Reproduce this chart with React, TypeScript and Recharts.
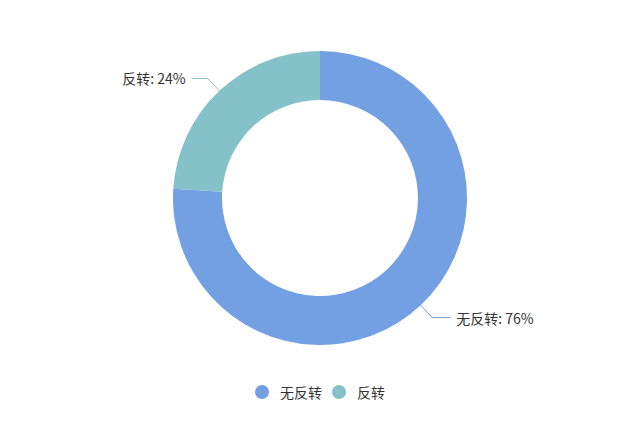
import React from 'react';
import { PieChart, Pie, Cell, Legend } from 'recharts';

const names = ['无反转', '反转'];
const values = [76, 24];
const colors = ['#739fe3', '#85c1c8'];

const data = names.map((name, i) => ({ name, value: values[i] }));

const RAD = Math.PI / 180;

const renderLabel = (props: any) => {
  const { cx, cy, midAngle, outerRadius, index, percent } = props;
  const cos = Math.cos(-midAngle * RAD);
  const sin = Math.sin(-midAngle * RAD);
  const x1 = cx + outerRadius * cos;
  const y1 = cy + outerRadius * sin;
  const x2 = cx + (outerRadius + 17) * cos;
  const y2 = cy + (outerRadius + 17) * sin;
  const right = cos >= 0;
  const x3 = x2 + (right ? 18 : -16);
  const tx = x3 + (right ? 6 : -6);
  return (
    <g>
      <path
        d={`M${x1},${y1}L${x2},${y2}L${x3},${y2}`}
        stroke={colors[index]}
        fill="none"
        strokeWidth={1}
      />
      <text
        x={tx}
        y={y2}
        textAnchor={right ? 'start' : 'end'}
        dominantBaseline="central"
        fill="#333"
        fontSize={14}
      >
        {`${names[index]}: ${Math.round(percent * 100)}%`}
      </text>
    </g>
  );
};

const renderLegend = () => (
  <div style={{ display: 'flex', justifyContent: 'center', alignItems: 'center', fontSize: 14, color: '#333' }}>
    {names.map((n, i) => (
      <div key={n} style={{ display: 'flex', alignItems: 'center', marginRight: i === 0 ? 10 : 0 }}>
        <span
          style={{
            width: 14,
            height: 14,
            borderRadius: 7,
            background: colors[i],
            display: 'inline-block',
            marginRight: 11,
          }}
        />
        <span>{n}</span>
      </div>
    ))}
  </div>
);

export default function App() {
  return (
    <div style={{ position: 'fixed', left: 0, top: 0, background: '#fff', fontFamily: '"Noto Sans CJK SC", "Noto Sans", sans-serif' }}>
      <PieChart width={640} height={440} margin={{ top: 0, right: 0, bottom: 0, left: 0 }}>
        <Pie
          data={data}
          dataKey="value"
          nameKey="name"
          cx={320}
          cy={198}
          innerRadius={98}
          outerRadius={147}
          startAngle={90}
          endAngle={-270}
          stroke="none"
          label={renderLabel}
          labelLine={false}
          isAnimationActive={false}
        >
          {data.map((d, i) => (
            <Cell key={d.name} fill={colors[i]} />
          ))}
        </Pie>
        <Legend
          content={renderLegend}
          verticalAlign="bottom"
          wrapperStyle={{ top: 382, bottom: 'auto', left: 0, width: 640 }}
        />
      </PieChart>
    </div>
  );
}
